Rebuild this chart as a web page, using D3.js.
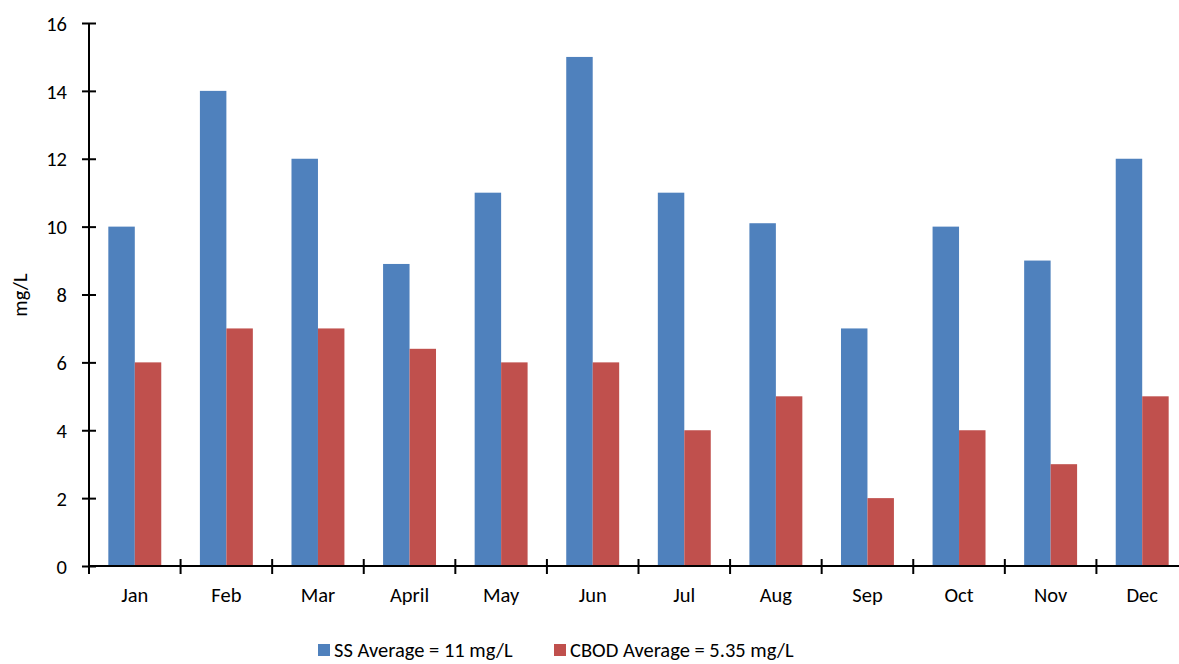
<!DOCTYPE html>
<html><head><meta charset="utf-8">
<script src="https://cdn.jsdelivr.net/npm/d3@7/dist/d3.min.js"></script>
<style>body{margin:0;background:#fff}svg{display:block}text{font-family:Carlito,Lato,"Open Sans",sans-serif;fill:#000}</style>
</head><body><svg id="c" width="1179" height="664"></svg>
<script>
const categories = ["Jan","Feb","Mar","April","May","Jun","Jul","Aug","Sep","Oct","Nov","Dec"];
const ssValues = [10,14,12,8.9,11,15,11,10.1,7,10,9,12];
const cbodValues = [6,7,7,6.4,6,6,4,5,2,4,3,5];
const seriesNames = ["SS Average = 11 mg/L","CBOD Average = 5.35 mg/L"];
const seriesColors = ["#4F81BD","#C0504D"];
const yTicks = [0,2,4,6,8,10,12,14,16];

const svg = d3.select("#c");
const x0 = 89, x1 = 1188, yTop = 23, yBot = 566;
const FS = 20.5;
const x = d3.scaleBand().domain(categories).range([x0,x1]).paddingInner(0).paddingOuter(0);
const xs = d3.scaleBand().domain([0,1]).range([0,x.bandwidth()]).paddingInner(0).paddingOuter(0.73);
const y = d3.scaleLinear().domain([0,16]).range([yBot,yTop]);

const data = categories.map((c,i)=>({c, v:[ssValues[i],cbodValues[i]]}));
const g = svg.append("g");
g.selectAll("g.cat").data(data).join("g").attr("transform",d=>`translate(${x(d.c)},0)`)
 .selectAll("rect").data(d=>d.v.map((v,k)=>({v,k}))).join("rect")
 .attr("x",d=>xs(d.k)).attr("width",xs.bandwidth())
 .attr("y",d=>y(d.v)).attr("height",d=>yBot-y(d.v))
 .attr("fill",d=>seriesColors[d.k]);

// Y axis
const ya = svg.append("g").attr("transform",`translate(${x0},0)`)
 .call(d3.axisLeft(y).tickValues(yTicks).tickSize(7).tickPadding(15).tickFormat(d3.format("d")));
ya.attr("font-size",null).attr("font-family",null);
ya.select(".domain").attr("stroke","#000").attr("stroke-width",2).attr("d",`M0,${yBot}V${yTop}`);
ya.selectAll(".tick line").attr("x1",-7).attr("x2",7).attr("stroke","#000").attr("stroke-width",2);
ya.selectAll(".tick text").attr("font-size",FS).attr("dy","0.35em");

// X axis
const xa = svg.append("g").attr("transform",`translate(0,${yBot})`)
 .call(d3.axisBottom(x).tickSize(0).tickPadding(21));
xa.attr("font-size",null).attr("font-family",null);
xa.select(".domain").attr("stroke","#000").attr("stroke-width",2).attr("d",`M${x0},0H${x1}`);
xa.selectAll(".tick line").remove();
xa.selectAll(".tick text").attr("font-size",FS);
const bounds = d3.range(categories.length+1).map(i=>x0+i*x.step());
svg.append("g").selectAll("line").data(bounds).join("line")
 .attr("x1",d=>d).attr("x2",d=>d).attr("y1",yBot-7).attr("y2",yBot+8)
 .attr("stroke","#000").attr("stroke-width",2);

// Y title
svg.append("text").attr("transform","translate(27,295) rotate(-90)")
 .attr("text-anchor","middle").attr("font-size",FS).text("mg/L");

// Legend
const leg = svg.append("g");
const legX = [318,554];
seriesNames.forEach((n,k)=>{
  leg.append("rect").attr("x",legX[k]).attr("y",644).attr("width",12).attr("height",12).attr("fill",seriesColors[k]);
  leg.append("text").attr("x",legX[k]+16).attr("y",657).attr("font-size",FS).text(n);
});
</script></body></html>
